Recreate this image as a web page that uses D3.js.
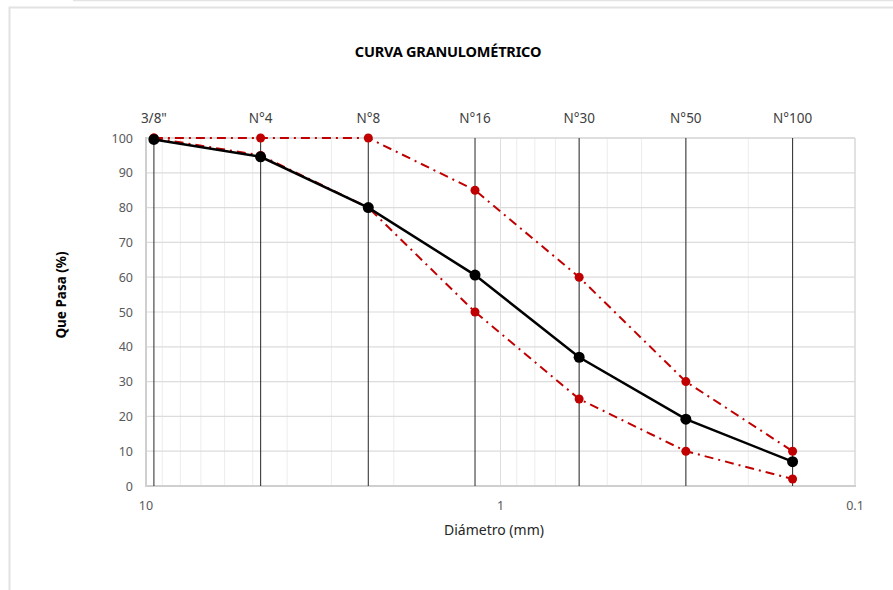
<!DOCTYPE html>
<html><head><meta charset="utf-8">
<script src="https://cdn.jsdelivr.net/npm/d3@7"></script>
<style>
html,body{margin:0;padding:0;background:#fff;}
svg text{font-family:"Noto Sans","Open Sans",sans-serif;}
</style></head>
<body>
<svg id="chart" width="893" height="590"></svg>
<script>
const sieveLabels = ['3/8"', "N°4", "N°8", "N°16", "N°30", "N°50", "N°100"];
const sieveSizes = [9.5, 4.75, 2.36, 1.18, 0.6, 0.3, 0.15];
const passing = [99.6, 94.6, 80, 60.6, 37.0, 19.2, 7.0];
const upperLimit = [100, 100, 100, 85, 60, 30, 10];
const lowerLimit = [100, 95, 80, 50, 25, 10, 2];
const yTicks = [0, 10, 20, 30, 40, 50, 60, 70, 80, 90, 100];
const xTickValues = [10, 1, 0.1];
const xTickLabels = ["10", "1", "0.1"];

const svg = d3.select("#chart");
const L = 146, R = 855, T = 138, B = 486;
const x = d3.scaleLog().domain([10, 0.1]).range([L, R]);
const y = d3.scaleLinear().domain([0, 100]).range([B, T]);

// outer frame
svg.append("line").attr("x1", 73).attr("x2", 893).attr("y1", 0.5).attr("y2", 0.5).attr("stroke", "#e4e4e4").attr("stroke-width", 1.5);
svg.append("path").attr("d", "M9.5,590 V7.5 H893").attr("fill", "none").attr("stroke", "#e2e2e2").attr("stroke-width", 2);

// minor vertical gridlines
const minors = [];
[0.1, 1].forEach(d => { for (let k = 2; k <= 9; k++) minors.push(+(d * k).toFixed(3)); });
svg.append("g").selectAll("line").data(minors).join("line")
  .attr("x1", d => x(d)).attr("x2", d => x(d)).attr("y1", T).attr("y2", B)
  .attr("stroke", "#ececec").attr("stroke-width", 1);
svg.append("line").attr("x1", x(1)).attr("x2", x(1)).attr("y1", T).attr("y2", B).attr("stroke", "#dedede");

// horizontal gridlines
svg.append("g").selectAll("line").data(yTicks.filter(d => d > 0)).join("line")
  .attr("x1", L).attr("x2", R).attr("y1", d => y(d)).attr("y2", d => y(d))
  .attr("stroke", "#dcdcdc").attr("stroke-width", 1.2);

// plot border
svg.append("line").attr("x1", R).attr("x2", R).attr("y1", T).attr("y2", B).attr("stroke", "#d9d9d9").attr("stroke-width", 1.5);
svg.append("line").attr("x1", L).attr("x2", R).attr("y1", T).attr("y2", T).attr("stroke", "#d9d9d9").attr("stroke-width", 1.5);
svg.append("line").attr("x1", L).attr("x2", L).attr("y1", T - 1).attr("y2", B + 1).attr("stroke", "#cfcfcf").attr("stroke-width", 2);
svg.append("line").attr("x1", L - 1).attr("x2", R + 1).attr("y1", B).attr("y2", B).attr("stroke", "#cfcfcf").attr("stroke-width", 2);

// sieve vertical lines
svg.append("g").selectAll("line").data(sieveSizes).join("line")
  .attr("x1", d => x(d)).attr("x2", d => x(d)).attr("y1", T).attr("y2", B)
  .attr("stroke", "#3a3a3a").attr("stroke-width", 1.1);

// sieve labels
svg.append("g").selectAll("text").data(sieveSizes).join("text")
  .attr("x", d => x(d)).attr("y", 123).attr("text-anchor", "middle")
  .attr("font-size", 13.5).attr("fill", "#404040")
  .text((d, i) => sieveLabels[i]);

// y axis labels
svg.append("g").selectAll("text").data(yTicks).join("text")
  .attr("x", 133).attr("y", d => y(d) + 4.5).attr("text-anchor", "end")
  .attr("font-size", 12.5).attr("fill", "#595959").text(d => d);

// x axis labels
svg.append("g").selectAll("text").data(xTickValues).join("text")
  .attr("x", d => x(d)).attr("y", 510).attr("text-anchor", "middle")
  .attr("font-size", 12.5).attr("fill", "#595959").text((d, i) => xTickLabels[i]);

// titles
svg.append("text").attr("x", 448).attr("y", 57).attr("text-anchor", "middle")
  .attr("font-size", 14.5).attr("font-weight", "bold").attr("fill", "#000")
  .attr("letter-spacing", "-0.2").text("CURVA GRANULOMÉTRICO");
svg.append("text").attr("transform", "translate(66,295) rotate(-90)").attr("text-anchor", "middle")
  .attr("font-size", 13.5).attr("font-weight", "bold").attr("fill", "#000").text("Que Pasa (%)");
svg.append("text").attr("x", 494).attr("y", 535).attr("text-anchor", "middle")
  .attr("font-size", 14).attr("fill", "#262626").text("Diámetro (mm)");

const line = d3.line().x(d => x(d[0])).y(d => y(d[1]));
const red = "#c00000";
[upperLimit, lowerLimit].forEach(arr => {
  const pts = sieveSizes.map((s, i) => [s, arr[i]]);
  svg.append("path").attr("d", line(pts)).attr("fill", "none")
    .attr("stroke", red).attr("stroke-width", 2).attr("stroke-dasharray", "9,5,2,5");
});
[upperLimit, lowerLimit].forEach(arr => {
  svg.append("g").selectAll("circle").data(sieveSizes).join("circle")
    .attr("cx", d => x(d)).attr("cy", (d, i) => y(arr[i])).attr("r", 4.5).attr("fill", red);
});
const bpts = sieveSizes.map((s, i) => [s, passing[i]]);
svg.append("path").attr("d", line(bpts)).attr("fill", "none").attr("stroke", "#000").attr("stroke-width", 2.5);
svg.append("g").selectAll("circle").data(bpts).join("circle")
  .attr("cx", d => x(d[0])).attr("cy", d => y(d[1])).attr("r", 5.5).attr("fill", "#000");
</script>
</body></html>
